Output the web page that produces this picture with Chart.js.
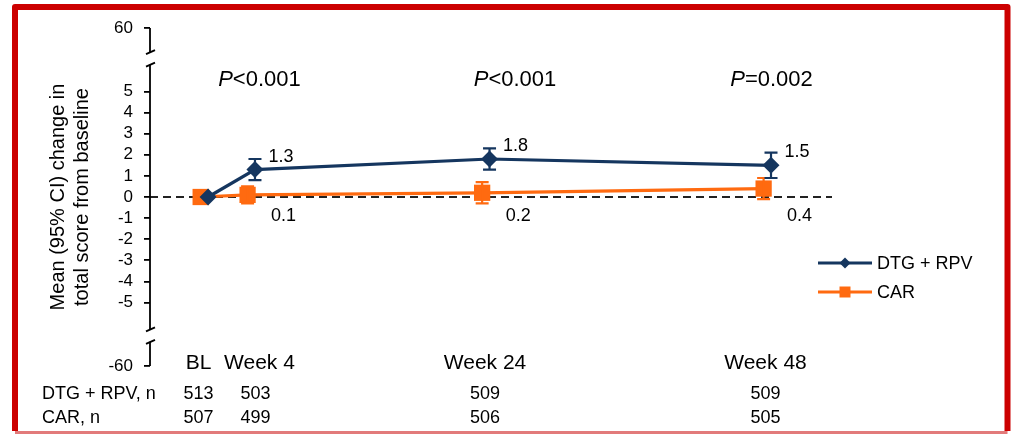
<!DOCTYPE html>
<html>
<head>
<meta charset="utf-8">
<script src="https://cdn.jsdelivr.net/npm/chart.js@4/dist/chart.umd.min.js"></script>
<style>
  html, body { margin: 0; padding: 0; background: #ffffff; }
  canvas { display: block; }
</style>
</head>
<body>
<canvas id="chart" width="1011" height="434"></canvas>
<script>
// Visit weeks and their axis labels
const weeks = [0, 4, 24, 48];
const xTickLabels = ['BL', 'Week 4', 'Week 24', 'Week 48'];

// Mean change from baseline with 95% CI
const dtgMean = [0, 1.3, 1.8, 1.5];
const dtgLow  = [null, 0.8, 1.3, 0.9];
const dtgHigh = [null, 1.8, 2.3, 2.1];
const carMean = [0, 0.1, 0.2, 0.4];
const carLow  = [null, -0.3, -0.3, -0.1];
const carHigh = [null, 0.5, 0.7, 0.9];

// Number of participants at each visit
const dtgN = [513, 503, 509, 509];
const carN = [507, 499, 506, 505];

// Between-group comparisons
const pWeeks = [4, 24, 48];
const pValues = ['<0.001', '<0.001', '=0.002'];

// Y axis ticks; the outer limits sit beyond the axis breaks
const yTicks = [-5, -4, -3, -2, -1, 0, 1, 2, 3, 4, 5];
const yOuterLabels = ['-60', '60'];

// ---- styling / layout constants ----
const FONT = "'Liberation Sans', Arial, Helvetica, sans-serif";
const NAVY = '#15365f';
const ORANGE = '#ff6a10';
const OUTER_POS = 8;          // where the -60 / 60 limits are drawn on the axis
const BREAK_INNER = 6.27;     // main axis segment ends here
const BREAK_OUTER = 6.86;     // outer axis segment starts here
const xLabelDx = [-6, 8, -1, -2];
const tableDx = [-6, 4, -1, -2];
const pDx = [8, 29, 4];

// labelDy: offset from the point (DTG) or from the zero line (CAR)
const series = [
  { name: 'DTG + RPV', mean: dtgMean, low: dtgLow, high: dtgHigh, color: NAVY,
    dodge: 0.3, pointStyle: 'rectRot', radius: 8.5, labelDx: 26, labelDy: -13, below: false },
  { name: 'CAR', mean: carMean, low: carLow, high: carHigh, color: ORANGE,
    dodge: -0.33, pointStyle: 'rect', radius: 11.5, labelDx: 36, labelDy: 19, below: true }
];

const datasets = series.map(s => ({
  label: s.name,
  data: weeks.map((w, i) => ({ x: w + s.dodge, y: s.mean[i] })),
  borderColor: s.color,
  backgroundColor: s.color,
  borderWidth: 3.2,
  pointStyle: s.pointStyle,
  pointRadius: s.radius,
  pointBorderWidth: 0,
  pointBackgroundColor: s.color,
  tension: 0
}));

function font(size, style) {
  return (style ? style + ' ' : '') + size + 'px ' + FONT;
}

const decorations = {
  id: 'decorations',
  beforeDraw(chart) {
    const ctx = chart.ctx;
    ctx.save();
    ctx.fillStyle = '#ffffff';
    ctx.fillRect(0, 0, chart.width, chart.height);
    // slide frame
    ctx.strokeStyle = '#cc0000';
    ctx.lineWidth = 6;
    ctx.lineJoin = 'round';
    ctx.beginPath();
    ctx.moveTo(15, 431);
    ctx.lineTo(15, 7);
    ctx.lineTo(1007.5, 7);
    ctx.lineTo(1007.5, 431);
    ctx.stroke();
    ctx.strokeStyle = '#e27a7a';
    ctx.lineWidth = 3;
    ctx.beginPath();
    ctx.moveTo(15, 432.5);
    ctx.lineTo(1007.5, 432.5);
    ctx.stroke();
    ctx.restore();
  },
  beforeDatasetsDraw(chart) {
    const ctx = chart.ctx, y = chart.scales.y, area = chart.chartArea;
    const y0 = y.getPixelForValue(0);
    ctx.save();
    ctx.strokeStyle = '#222222';
    ctx.lineWidth = 2;
    ctx.setLineDash([8, 5]);
    ctx.beginPath();
    ctx.moveTo(area.left, y0);
    ctx.lineTo(area.right, y0);
    ctx.stroke();
    ctx.restore();
  },
  afterDatasetsDraw(chart) {
    const ctx = chart.ctx, xs = chart.scales.x, ys = chart.scales.y;
    ctx.save();
    // error bars (CAR first so DTG sits on top)
    for (let k = series.length - 1; k >= 0; k--) {
      const s = series[k];
      ctx.strokeStyle = s.color;
      ctx.lineWidth = 2.2;
      weeks.forEach((w, i) => {
        if (s.low[i] === null) return;
        const px = xs.getPixelForValue(w + s.dodge);
        const yl = ys.getPixelForValue(s.low[i]);
        const yh = ys.getPixelForValue(s.high[i]);
        ctx.beginPath();
        ctx.moveTo(px, yl); ctx.lineTo(px, yh);
        ctx.moveTo(px - 6.5, yl); ctx.lineTo(px + 6.5, yl);
        ctx.moveTo(px - 6.5, yh); ctx.lineTo(px + 6.5, yh);
        ctx.stroke();
      });
    }
    // value labels
    ctx.fillStyle = '#000';
    ctx.font = font(18);
    ctx.textAlign = 'center';
    ctx.textBaseline = 'middle';
    const y0 = ys.getPixelForValue(0);
    series.forEach(s => {
      weeks.forEach((w, i) => {
        if (i === 0) return;
        const px = xs.getPixelForValue(w + s.dodge);
        const base = s.below ? y0 : ys.getPixelForValue(s.mean[i]);
        ctx.fillText(s.mean[i].toFixed(1), px + s.labelDx, base + s.labelDy);
      });
    });
    ctx.restore();
  },
  afterDraw(chart) {
    const ctx = chart.ctx, xs = chart.scales.x, ys = chart.scales.y;
    const ax = chart.chartArea.left;
    ctx.save();
    // broken y axis
    ctx.strokeStyle = '#000';
    ctx.lineWidth = 1.8;
    const segs = [[OUTER_POS, BREAK_OUTER], [BREAK_INNER, -BREAK_INNER], [-BREAK_OUTER, -OUTER_POS]];
    segs.forEach(([a, b]) => {
      ctx.beginPath();
      ctx.moveTo(ax, ys.getPixelForValue(a));
      ctx.lineTo(ax, ys.getPixelForValue(b));
      ctx.stroke();
    });
    [BREAK_OUTER, BREAK_INNER, -BREAK_INNER, -BREAK_OUTER].forEach(v => {
      const py = ys.getPixelForValue(v);
      ctx.beginPath();
      ctx.moveTo(ax - 4, py + 2);
      ctx.lineTo(ax + 5, py - 2);
      ctx.stroke();
    });

    // visit labels
    ctx.fillStyle = '#000';
    ctx.textAlign = 'center';
    ctx.textBaseline = 'middle';
    ctx.font = font(21);
    weeks.forEach((w, i) => {
      ctx.fillText(xTickLabels[i], xs.getPixelForValue(w) + xLabelDx[i], 363);
    });

    // participant counts
    ctx.font = font(18);
    ctx.textAlign = 'left';
    ctx.fillText('DTG + RPV, n', 42, 394);
    ctx.fillText('CAR, n', 42, 418);
    ctx.textAlign = 'center';
    weeks.forEach((w, i) => {
      const px = xs.getPixelForValue(w) + tableDx[i];
      ctx.fillText(String(dtgN[i]), px, 394);
      ctx.fillText(String(carN[i]), px, 418);
    });

    // P values
    pWeeks.forEach((w, i) => {
      const cx = xs.getPixelForValue(w) + pDx[i];
      ctx.font = font(22, 'italic');
      const wP = ctx.measureText('P').width;
      ctx.font = font(22);
      const wR = ctx.measureText(pValues[i]).width;
      const left = cx - (wP + wR) / 2;
      ctx.textAlign = 'left';
      ctx.font = font(22, 'italic');
      ctx.fillText('P', left, 80);
      ctx.font = font(22);
      ctx.fillText(pValues[i], left + wP, 80);
    });

    // legend
    ctx.font = font(18);
    ctx.textAlign = 'left';
    series.forEach((s, i) => {
      const ly = 263 + i * 29;
      ctx.strokeStyle = s.color;
      ctx.fillStyle = s.color;
      ctx.lineWidth = 3.2;
      ctx.beginPath();
      ctx.moveTo(818, ly); ctx.lineTo(872, ly);
      ctx.stroke();
      ctx.beginPath();
      if (s.pointStyle === 'rectRot') {
        ctx.moveTo(845 - 5.5, ly); ctx.lineTo(845, ly - 5.5);
        ctx.lineTo(845 + 5.5, ly); ctx.lineTo(845, ly + 5.5);
        ctx.closePath();
      } else {
        ctx.rect(845 - 5.5, ly - 5.5, 11, 11);
      }
      ctx.fill();
      ctx.fillStyle = '#000';
      ctx.fillText(s.name, 877, ly + 1);
    });
    ctx.restore();
  }
};

new Chart(document.getElementById('chart'), {
  type: 'line',
  data: { datasets },
  options: {
    responsive: false,
    animation: false,
    devicePixelRatio: 1,
    layout: { padding: { top: 26, bottom: 66, left: 0, right: 179 } },
    plugins: { legend: { display: false }, tooltip: { enabled: false } },
    scales: {
      x: { type: 'linear', min: -4.65, max: 53.5, display: false },
      y: {
        type: 'linear',
        min: -8.1,
        max: 8.1,
        afterFit(scale) { scale.width = 150; },
        afterBuildTicks(scale) {
          scale.ticks = [-OUTER_POS, ...yTicks, OUTER_POS].map(v => ({ value: v }));
        },
        ticks: {
          color: '#000',
          font: { family: FONT, size: 17 },
          padding: 11,
          callback(v) {
            if (v === OUTER_POS) return yOuterLabels[1];
            if (v === -OUTER_POS) return yOuterLabels[0];
            return String(v);
          }
        },
        grid: { drawOnChartArea: false, drawTicks: true, tickLength: 6, color: '#000', lineWidth: 1.8 },
        border: { display: false },
        title: {
          display: true,
          text: ['Mean (95% CI) change in', 'total score from baseline'],
          color: '#000',
          font: { family: FONT, size: 20, lineHeight: 1.2 },
          padding: { top: 46, bottom: 0 }
        }
      }
    }
  },
  plugins: [decorations]
});
</script>
</body>
</html>
